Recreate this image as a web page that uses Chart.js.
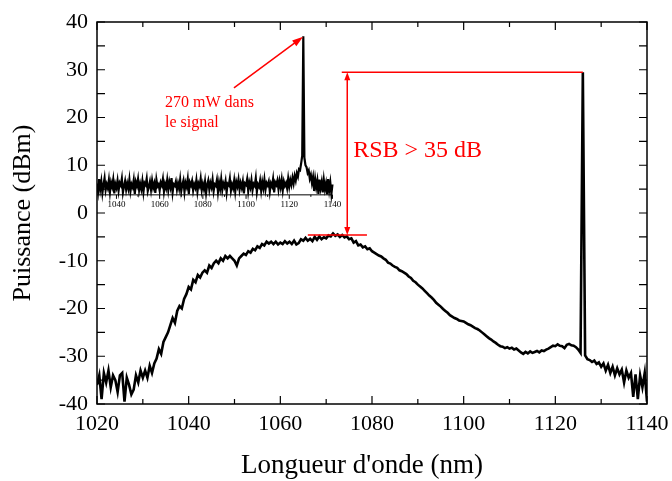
<!DOCTYPE html>
<html>
<head>
<meta charset="utf-8">
<script src="https://cdn.jsdelivr.net/npm/chart.js@4"></script>
<style>
  html, body { margin: 0; padding: 0; background: #fff; }
  canvas { display: block; }
</style>
</head>
<body>
<canvas id="spectre" width="672" height="481"></canvas>
<script>
// spectre principal : pas de 0.5 nm a partir de 1020 nm
const mainStart = 1020
const mainStep = 0.5
const mainPower = [
    -36, -34, -39, -33.5, -35.5, -33, -36.5, -34, -35, -37.5,              // 1020
    -34, -33.5, -39.5, -34.5, -36, -38, -37, -34, -35.5, -33,              // 1025
    -34.5, -33, -34.5, -32, -33.5, -31.5, -30.5, -28.5, -29.5, -27,        // 1030
    -26, -25, -23.5, -22, -23, -20.5, -19.5, -20, -18, -17,                // 1035
    -15.5, -16, -14, -14.5, -13, -13.5, -12.5, -12, -12.5, -11,            // 1040
    -11.5, -10.5, -10, -10.5, -9.5, -10, -9, -9.5, -9, -9.5,               // 1045
    -10, -11, -9.5, -9, -8.5, -8.8, -8, -8.3, -7.5, -7.8,                  // 1050
    -7, -7.3, -6.5, -6.8, -6, -6.4, -6, -6.5, -6, -6.6,                    // 1055
    -6.2, -6.5, -5.9, -6.4, -6, -6.5, -5.8, -6.6, -6.3, -5.5,              // 1060
    -5.8, -5.2, -5.8, -5.4, -5.9, -5, -5.6, -4.9, -5.5, -5.1,              // 1065
    -5.3, -4.7, -4.9, -4.3, -4.8, -4.5, -5, -4.6, -5.1, -4.9,              // 1070
    -5.5, -5.3, -6.2, -5.9, -6.8, -6.6, -7.2, -7, -7.6, -7.4,              // 1075
    -8, -8.3, -8.6, -8.9, -9.1, -9.5, -9.8, -10.4, -10.6, -11,             // 1080
    -11.3, -11.5, -12, -12.2, -12.5, -12.8, -13.3, -13.6, -14.2, -14.5,    // 1085
    -15, -15.4, -15.8, -16.3, -16.8, -17.3, -17.7, -18.2, -18.8, -19.2,    // 1090
    -19.6, -20.1, -20.5, -20.9, -21.4, -21.7, -22, -22.2, -22.5, -22.6,    // 1095
    -22.7, -23, -23.3, -23.5, -23.8, -24.1, -24.3, -24.6, -25, -25.4,      // 1100
    -25.8, -26.2, -26.5, -26.9, -27.2, -27.6, -27.9, -28, -28.3, -28.1,    // 1105
    -28.4, -28.2, -28.6, -28.4, -28.8, -29.2, -29.5, -29.1, -29.4, -29,    // 1110
    -29.3, -29.1, -28.9, -29.2, -28.8, -28.9, -28.6, -28.4, -28.1, -27.8,  // 1115
    -27.9, -27.5, -27.8, -27.9, -28.3, -27.6, -27.4, -27.7, -27.8, -28.1,  // 1120
    -28.6, -29.3, 29.5, -29.8, -30.6, -30.8, -31.2, -30.9, -31.6, -31.3,   // 1125
    -32.2, -31.5, -33, -31.8, -33.5, -32.2, -34, -32.5, -33.8, -32.8,      // 1130
    -35.5, -33, -34.5, -33.5, -38.5, -33.8, -39, -34, -36.5, -33.5,        // 1135
    -39.5                                                                  // 1140
]

// encart : spectre du signal, pas de 0.5 nm a partir de 1031 nm
const insetStart = 1031
const insetStep = 0.5
const insetPower = [
    6.2, 4.5, 7.1, 5.0, 6.6, 4.2, 5.9, 7.3, 4.8, 6.0,   // 1031
    5.2, 6.9, 4.4, 6.4, 5.5, 7.0, 4.1, 6.1, 5.3, 6.8,   // 1036
    4.7, 6.3, 5.8, 7.2, 4.3, 5.6, 6.7, 4.9, 6.2, 5.1,   // 1041
    7.0, 4.6, 6.0, 5.4, 6.9, 4.0, 6.5, 5.7, 7.1, 4.8,   // 1046
    6.1, 5.0, 6.7, 4.4, 6.3, 5.9, 7.2, 4.6, 5.5, 6.6,   // 1051
    4.9, 6.8, 5.3, 6.2, 4.2, 7.0, 5.6, 6.0, 4.7, 6.4,   // 1056
    5.8, 7.1, 4.5, 6.1, 5.2, 6.9, 4.8, 6.5, 5.4, 7.3,   // 1061
    4.3, 6.0, 5.7, 6.6, 4.9, 6.2, 5.1, 7.0, 4.6, 5.9,   // 1066
    6.8, 4.4, 6.3, 5.5, 7.1, 4.0, 6.4, 5.8, 6.7, 4.7,   // 1071
    6.0, 5.3, 6.9, 4.5, 6.2, 5.6, 7.2, 4.8, 6.1, 5.0,   // 1076
    6.6, 4.2, 5.9, 6.8, 4.9, 6.3, 5.4, 7.0, 4.6, 6.0,   // 1081
    5.7, 6.9, 4.4, 6.4, 5.1, 7.1, 4.8, 6.2, 5.5, 6.7,   // 1086
    4.3, 6.1, 5.8, 7.2, 4.7, 6.0, 5.2, 6.8, 4.5, 6.5,   // 1091
    5.6, 7.0, 4.9, 6.3, 5.3, 6.6, 4.1, 6.2, 5.9, 7.1,   // 1096
    4.6, 6.4, 5.4, 6.9, 4.8, 6.1, 5.7, 7.3, 4.4, 6.0,   // 1101
    5.5, 6.8, 4.7, 6.5, 5.2, 7.0, 4.9, 6.3, 5.8, 6.6,   // 1106
    4.5, 6.2, 5.6, 7.1, 4.3, 6.4, 5.9, 6.8, 5.0, 6.7,   // 1111
    5.4, 7.0, 4.8, 6.6, 5.7, 6.3, 5.2, 7.2, 5.5, 6.9,   // 1116
    5.9, 7.4, 6.2, 7.8, 6.8, 8.3, 7.6, 9.2, 9.0, 10.4,  // 1121
    12.0, 37.0, 11.6, 10.0, 9.6, 8.4, 8.9, 7.2, 8.0, 6.3, // 1126
    7.5, 4.6, 7.1, 5.4, 6.8, 4.0, 7.0, 5.2, 6.5, 4.3,   // 1131
    6.9, 5.0, 6.2, 3.9, 7.1, 4.8, 6.4, 4.0, 6.0         // 1136
]

const xTicks = [1020, 1040, 1060, 1080, 1100, 1120, 1140]
const yTicks = [-40, -30, -20, -10, 0, 10, 20, 30, 40]
const insetTicks = [1040, 1060, 1080, 1100, 1120, 1140]

const serif = "'Liberation Serif', 'DejaVu Serif', serif"
const red = '#ff0000'

function arrowHead(ctx, x0, y0, x1, y1, len, half) {
    const a = Math.atan2(y1 - y0, x1 - x0)
    const c = Math.cos(a), s = Math.sin(a)
    ctx.beginPath()
    ctx.moveTo(x1, y1)
    ctx.lineTo(x1 - len * c + half * s, y1 - len * s - half * c)
    ctx.lineTo(x1 - len * c - half * s, y1 - len * s + half * c)
    ctx.closePath()
    ctx.fill()
}

const decor = {
    id: 'decor',
    afterDatasetsDraw(chart) {
        const {ctx, chartArea: a, scales: {x, y, x2}} = chart
        ctx.save()

        // cadre + graduations vers l'interieur
        ctx.strokeStyle = '#000'
        ctx.lineWidth = 1.5
        ctx.strokeRect(a.left, a.top, a.right - a.left, a.bottom - a.top)
        ctx.lineWidth = 1.2
        ctx.beginPath()
        for (let v = 1020; v <= 1140; v += 10) {
            const px = x.getPixelForValue(v)
            const len = v % 20 === 0 ? 8 : 5
            ctx.moveTo(px, a.bottom); ctx.lineTo(px, a.bottom - len)
            ctx.moveTo(px, a.top); ctx.lineTo(px, a.top + len)
        }
        for (let v = -40; v <= 40; v += 5) {
            const py = y.getPixelForValue(v)
            ctx.moveTo(a.left, py); ctx.lineTo(a.left + 8, py)
            ctx.moveTo(a.right, py); ctx.lineTo(a.right - 8, py)
        }
        ctx.stroke()

        // titre de l'axe x (un peu a gauche du centre, comme l'original)
        ctx.fillStyle = '#000'
        ctx.font = '27px ' + serif
        ctx.textAlign = 'center'
        ctx.textBaseline = 'middle'
        ctx.fillText("Longueur d'onde (nm)", 362, 466)

        // axe de l'encart
        const base = y.getPixelForValue(3.8)
        ctx.lineWidth = 1
        ctx.beginPath()
        ctx.moveTo(a.left, base)
        ctx.lineTo(x2.getPixelForValue(1140), base)
        for (let v = 1040; v <= 1140; v += 10) {
            const px = x2.getPixelForValue(v)
            ctx.moveTo(px, base); ctx.lineTo(px, base + (v % 20 === 0 ? 4 : 2))
        }
        ctx.stroke()
        ctx.font = '9px ' + serif
        insetTicks.forEach(v => ctx.fillText(String(v), x2.getPixelForValue(v), base + 10))

        // annotations rouges
        ctx.strokeStyle = red
        ctx.fillStyle = red
        ctx.lineWidth = 1.5
        const top = y.getPixelForValue(29.5)
        const bot = y.getPixelForValue(-4.6)
        const ax = x.getPixelForValue(1074.6)
        ctx.beginPath()
        ctx.moveTo(x.getPixelForValue(1073.4), top)
        ctx.lineTo(x.getPixelForValue(1126.0), top)
        ctx.moveTo(x.getPixelForValue(1066.0), bot)
        ctx.lineTo(x.getPixelForValue(1078.9), bot)
        ctx.moveTo(ax, top + 6)
        ctx.lineTo(ax, bot - 6)
        ctx.stroke()
        arrowHead(ctx, ax, bot, ax, top, 8, 3)
        arrowHead(ctx, ax, top, ax, bot, 8, 3)

        ctx.font = '24px ' + serif
        ctx.textAlign = 'left'
        ctx.textBaseline = 'alphabetic'
        ctx.fillText('RSB > 35 dB', x.getPixelForValue(1075.9), y.getPixelForValue(11.7))

        // fleche de l'encart
        const tx = x2.getPixelForValue(1094.4), ty = y.getPixelForValue(26.2)
        const hx = x2.getPixelForValue(1126.4), hy = y.getPixelForValue(36.9)
        ctx.beginPath()
        ctx.moveTo(tx, ty)
        ctx.lineTo(hx - (hx - tx) * 0.12, hy - (hy - ty) * 0.12)
        ctx.stroke()
        arrowHead(ctx, tx, ty, hx, hy, 11, 3.5)

        ctx.font = '16px ' + serif
        ctx.fillText('270 mW dans', x2.getPixelForValue(1062.5), y.getPixelForValue(22.2))
        ctx.fillText('le signal', x2.getPixelForValue(1062.5), y.getPixelForValue(18.0))

        ctx.restore()
    }
}

new Chart(document.getElementById('spectre'), {
    type: 'line',
    data: {
        datasets: [{
            label: 'Spectre',
            data: mainPower.map((p, i) => ({x: mainStart + i * mainStep, y: p})),
            xAxisID: 'x',
            borderColor: '#000',
            borderWidth: 2.6,
            pointRadius: 0,
            tension: 0
        }, {
            label: 'Encart',
            data: insetPower.map((p, i) => ({x: insetStart + i * insetStep, y: p})),
            xAxisID: 'x2',
            borderColor: '#000',
            borderWidth: 2.2,
            pointRadius: 0,
            tension: 0
        }]
    },
    options: {
        responsive: false,
        animation: false,
        events: [],
        layout: {padding: {top: 22, right: 25, left: 0, bottom: 0}},
        plugins: {legend: {display: false}, tooltip: {enabled: false}},
        scales: {
            x: {
                type: 'linear',
                min: 1020,
                max: 1140,
                afterBuildTicks: s => { s.ticks = xTicks.map(v => ({value: v})) },
                afterFit: s => { s.height = 77; s.paddingLeft = 0; s.paddingRight = 0 },
                grid: {display: false, drawTicks: false},
                border: {display: false},
                ticks: {color: '#000', padding: 7, maxRotation: 0, font: {family: serif, size: 22},
                    callback: v => String(v)},
                title: {display: false}
            },
            x2: {
                type: 'linear',
                display: false,
                min: 1031,
                max: 1285.6
            },
            y: {
                min: -40,
                max: 40,
                afterBuildTicks: s => { s.ticks = yTicks.map(v => ({value: v})) },
                afterFit: s => { s.width = 97; s.paddingTop = 0; s.paddingBottom = 0 },
                grid: {display: false, drawTicks: false},
                border: {display: false},
                ticks: {color: '#000', padding: 9, font: {family: serif, size: 22},
                    callback: v => String(v)},
                title: {display: true, text: 'Puissance (dBm)', color: '#000',
                    padding: {top: 8, bottom: 0}, font: {family: serif, size: 26}}
            }
        }
    },
    plugins: [decor]
})
</script>
</body>
</html>
